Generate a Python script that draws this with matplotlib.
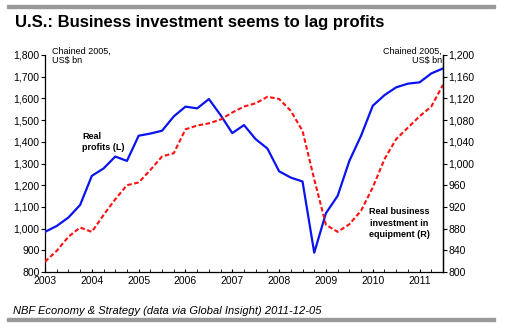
import matplotlib
matplotlib.use("Agg")
import matplotlib.pyplot as plt
from matplotlib.ticker import FuncFormatter, MultipleLocator
from matplotlib.patches import Rectangle

plt.rcParams["font.family"] = ["Liberation Sans", "DejaVu Sans"]

# quarterly, 2003Q1 .. 2011Q3
quarters = [f"{y}Q{q}" for y in range(2003, 2012) for q in range(1, 5)][:35]

# Real profits (L), chained 2005 US$ bn
profits = [985, 1012, 1051, 1109, 1243, 1277, 1332, 1312,
           1428, 1438, 1451, 1517, 1562, 1554, 1597, 1523,
           1440, 1477, 1412, 1369, 1264, 1235, 1217, 889,
           1071, 1151, 1312, 1428, 1566, 1615, 1651, 1668,
           1674, 1715, 1738]

# Real business investment in equipment (R), chained 2005 US$ bn
investment = [819, 839, 865, 882, 874, 905, 934, 960,
              965, 988, 1013, 1019, 1063, 1070, 1074, 1081,
              1094, 1105, 1111, 1123, 1119, 1097, 1060, 971,
              887, 874, 888, 913, 956, 1008, 1045, 1066,
              1087, 1105, 1145]

year_labels = [str(y) for y in range(2003, 2012)]


def q_to_float(q):
    y, n = q.split("Q")
    return int(y) + (int(n) - 1) / 4


x = [q_to_float(q) for q in quarters]

fig = plt.figure(figsize=(5.13, 3.31), dpi=100)
ax = fig.add_axes([45 / 513, 1 - 272 / 331, 398 / 513, 217 / 331])
ax2 = ax.twinx()

ax.plot(x, profits, color="#0a14f0", lw=1.6, zorder=3)
ax2.plot(x, investment, color="#ff1010", lw=1.5, ls=(0, (2.2, 1.2)))

ax.set_xlim(2003, 2011.5)
ax.set_ylim(800, 1800)
ax2.set_ylim(800, 1200)
ax.yaxis.set_major_locator(MultipleLocator(100))
ax2.yaxis.set_major_locator(MultipleLocator(40))
fmt = FuncFormatter(lambda v, p: f"{int(v):,}")
ax.yaxis.set_major_formatter(fmt)
ax2.yaxis.set_major_formatter(fmt)

ax.set_xticks(range(2003, 2012))
ax.set_xticklabels(year_labels)
ax.set_xticks(x, minor=True)

for a in (ax, ax2):
    a.spines["top"].set_visible(False)
    for s in a.spines.values():
        s.set_linewidth(0.9)
    a.tick_params(labelsize=7.5, colors="black", length=3, width=0.8, pad=1)
ax.tick_params(axis="x", which="both", direction="in", length=2.5, pad=3)
ax2.spines["left"].set_visible(False)
ax2.spines["bottom"].set_visible(False)

ax.text(0.018, 1.04, "Chained 2005,\nUS$ bn", transform=ax.transAxes,
        fontsize=6.5, va="top", ha="left", linespacing=1.1)
ax.text(0.998, 1.04, "Chained 2005,\nUS$ bn", transform=ax.transAxes,
        fontsize=6.5, va="top", ha="right", linespacing=1.1)
ax.text(2003.8, 1445, "Real\nprofits (L)", fontsize=6.5, fontweight="bold",
        va="top", ha="left", linespacing=1.3)
ax2.text(2010.56, 919, "Real business\ninvestment in\nequipment (R)",
         fontsize=6.5, fontweight="bold", va="top", ha="center",
         linespacing=1.3)

fig.text(15 / 513, 1 - 22 / 331, "U.S.: Business investment seems to lag profits",
         fontsize=12, fontweight="bold", va="center", ha="left")
fig.text(13 / 513, 1 - 311 / 331,
         "NBF Economy & Strategy (data via Global Insight) 2011-12-05",
         fontsize=8, style="italic", va="center", ha="left")

for yb in (5, 318):
    fig.patches.append(Rectangle((7 / 513, 1 - (yb + 3) / 331), 488 / 513, 3 / 331,
                                 transform=fig.transFigure, color="#999999"))

fig.savefig("out.png", dpi=100)
